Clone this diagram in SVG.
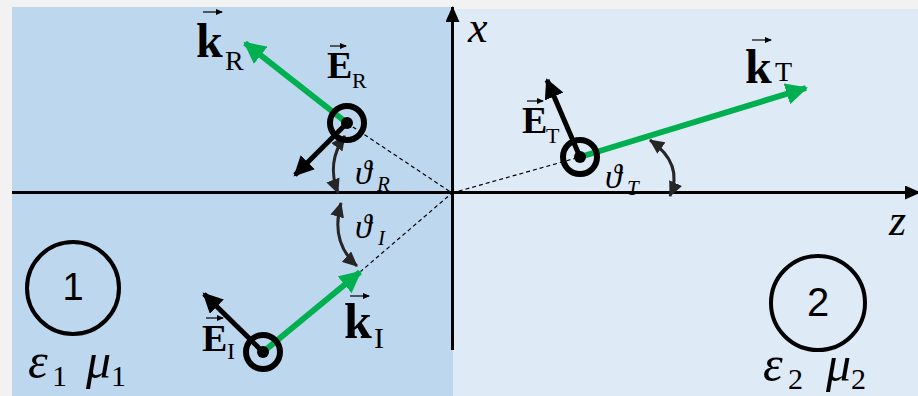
<svg xmlns="http://www.w3.org/2000/svg" width="918" height="396" viewBox="0 0 918 396">
<style>
.bold{font-family:"Liberation Serif","DejaVu Serif","Times New Roman",serif;font-weight:bold;fill:#000}
.sub{font-family:"Liberation Serif","DejaVu Serif","Times New Roman",serif;fill:#000}
.it{font-family:"Liberation Serif","DejaVu Serif","Times New Roman",serif;font-style:italic;fill:#000}
.num{font-family:"Liberation Sans",Arial,sans-serif;fill:#000}
.green{stroke:#00b050;stroke-width:6;fill:none}
.black{stroke:#000;stroke-width:5;fill:none}
.dash{stroke:#000;stroke-width:1.2;stroke-dasharray:4 3;fill:none}
.arc{stroke:#262626;stroke-width:3;fill:none}
.vec{stroke:#000;stroke-width:1.2;fill:none}
.ring{fill:none;stroke:#000;stroke-width:6}
</style>
<defs>
<marker id="ahG" markerUnits="userSpaceOnUse" markerWidth="24" markerHeight="22" refX="20" refY="11" orient="auto"><path d="M0,0 L22,11 L0,22 Z" fill="#00b050"/></marker>
<marker id="ahB" markerUnits="userSpaceOnUse" markerWidth="22" markerHeight="20" refX="18" refY="10" orient="auto"><path d="M0,0 L20,10 L0,20 Z" fill="#000"/></marker>
<marker id="ahA" markerUnits="userSpaceOnUse" markerWidth="16" markerHeight="14" refX="14" refY="7" orient="auto-start-reverse"><path d="M0,0 L15,7 L0,14 Z" fill="#262626"/></marker>
<marker id="ahX" markerUnits="userSpaceOnUse" markerWidth="16" markerHeight="14" refX="15" refY="7" orient="auto"><path d="M0,0 L16,7 L0,14 Z" fill="#000"/></marker>
<marker id="ahV" markerUnits="userSpaceOnUse" markerWidth="7" markerHeight="6" refX="6" refY="3" orient="auto"><path d="M0,0 L7,3 L0,6 Z" fill="#000"/></marker>
</defs>
<rect x="0" y="0" width="918" height="396" fill="#f2f2f2"/>
<g id="medium1"><rect x="12" y="7" width="441" height="389" fill="#bdd7ee"/></g>
<g id="medium2"><rect x="453" y="9" width="465" height="387" fill="#deebf7"/></g>

<g id="connectors">
<path class="dash" d="M347,123 L452,193"/>
<path class="dash" d="M360,272 L452,193"/>
<path class="dash" d="M452,193 L580,157"/>
<line x1="12" y1="192.5" x2="920" y2="192.5" stroke="#000" stroke-width="3" marker-end="url(#ahX)"/>
<line x1="452.5" y1="350" x2="452.5" y2="7" stroke="#000" stroke-width="3" marker-end="url(#ahX)"/>
<path class="arc" d="M345,136 Q326,162 338,193" marker-start="url(#ahA)" marker-end="url(#ahA)"/>
<path class="arc" d="M341,203 Q330,242 357,266" marker-start="url(#ahA)" marker-end="url(#ahA)"/>
<path class="arc" d="M650,140 Q684,164 670,196" marker-start="url(#ahA)" marker-end="url(#ahA)"/>
</g>

<g id="axis-labels">
<text class="it" x="468" y="42" font-size="44">x</text>
<text class="it" x="889" y="235" font-size="44">z</text>
</g>

<g id="reflected">
<line class="green" x1="347" y1="123" x2="245" y2="43" marker-end="url(#ahG)"/>
<line class="black" x1="347" y1="123" x2="295" y2="175" marker-end="url(#ahB)"/>
<circle class="ring" cx="347" cy="123" r="17"/>
<circle cx="347" cy="123" r="6" fill="#000"/>
</g>
<g id="incident">
<line class="green" x1="263" y1="352" x2="360" y2="272" marker-end="url(#ahG)"/>
<line class="black" x1="263" y1="352" x2="204" y2="294" marker-end="url(#ahB)"/>
<circle class="ring" cx="263" cy="352" r="17"/>
<circle cx="263" cy="352" r="6" fill="#000"/>
</g>
<g id="transmitted">
<line class="green" x1="580" y1="157" x2="806" y2="88" marker-end="url(#ahG)"/>
<line class="black" x1="580" y1="157" x2="547" y2="80" marker-end="url(#ahB)"/>
<circle class="ring" cx="580" cy="157" r="17"/>
<circle cx="580" cy="157" r="6" fill="#000"/>
</g>

<g id="label-kR">
<line class="vec" x1="203" y1="12" x2="222" y2="12" marker-end="url(#ahV)"/>
<text class="bold" x="196" y="57" font-size="48">k</text>
<text class="sub" x="225" y="70" font-size="28">R</text>
</g>
<g id="label-ER">
<line class="vec" x1="330" y1="46" x2="346" y2="46" marker-end="url(#ahV)"/>
<text class="bold" x="327" y="78" font-size="38">E</text>
<text class="sub" x="352" y="88" font-size="22">R</text>
</g>
<g id="label-EI">
<line class="vec" x1="206" y1="318" x2="223" y2="318" marker-end="url(#ahV)"/>
<text class="bold" x="202" y="351" font-size="38">E</text>
<text class="sub" x="227" y="359" font-size="24">I</text>
</g>
<g id="label-kI">
<line class="vec" x1="350" y1="296" x2="369" y2="296" marker-end="url(#ahV)"/>
<text class="bold" x="344" y="338" font-size="50">k</text>
<text class="sub" x="374" y="348" font-size="30">I</text>
</g>
<g id="label-ET">
<line class="vec" x1="527" y1="101" x2="543" y2="101" marker-end="url(#ahV)"/>
<text class="bold" x="522" y="133" font-size="38">E</text>
<text class="sub" x="546" y="143" font-size="22">T</text>
</g>
<g id="label-kT">
<line class="vec" x1="752" y1="40" x2="771" y2="40" marker-end="url(#ahV)"/>
<text class="bold" x="745" y="83" font-size="48">k</text>
<text class="sub" x="775" y="81" font-size="28">T</text>
</g>

<g id="angle-R">
<text class="it" x="355" y="184" font-size="34">ϑ</text>
<text class="it" x="377" y="191" font-size="21">R</text>
</g>
<g id="angle-I">
<text class="it" x="355" y="238" font-size="34">ϑ</text>
<text class="it" x="378" y="245" font-size="21">I</text>
</g>
<g id="angle-T">
<text class="it" x="605" y="188" font-size="34">ϑ</text>
<text class="it" x="627" y="195" font-size="21">T</text>
</g>

<g id="region1">
<circle cx="73" cy="288" r="46" fill="none" stroke="#000" stroke-width="4"/>
<text class="num" x="73" y="300" font-size="38" text-anchor="middle">1</text>
<text class="it" x="28" y="378" font-size="50">ε</text>
<text class="sub" x="52" y="386" font-size="30">1</text>
<text class="it" x="86" y="378" font-size="50">μ</text>
<text class="sub" x="111" y="386" font-size="30">1</text>
</g>
<g id="region2">
<circle cx="818" cy="303" r="47" fill="none" stroke="#000" stroke-width="4"/>
<text class="num" x="818" y="316" font-size="40" text-anchor="middle">2</text>
<text class="it" x="763" y="381" font-size="50">ε</text>
<text class="sub" x="788" y="389" font-size="30">2</text>
<text class="it" x="826" y="381" font-size="50">μ</text>
<text class="sub" x="851" y="389" font-size="30">2</text>
</g>
</svg>
